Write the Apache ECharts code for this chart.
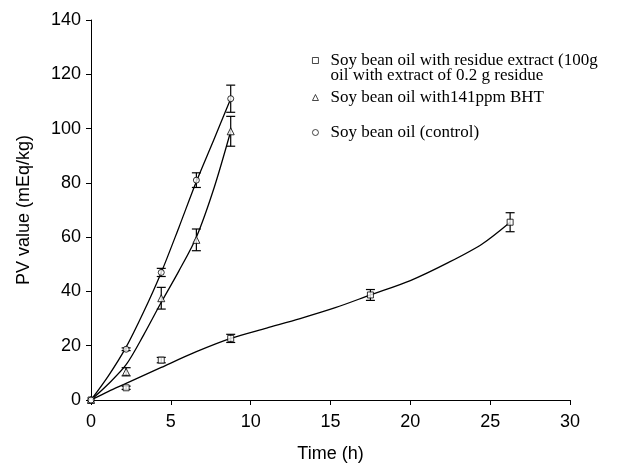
<!DOCTYPE html>
<html>
<head>
<meta charset="utf-8">
<script src="https://cdn.jsdelivr.net/npm/echarts@6/dist/echarts.min.js"></script>
<style>html,body{margin:0;padding:0;background:#fff}#c{width:629px;height:473px}</style>
</head>
<body>
<div id="c"></div>
<script>
// Names
const nameResidue = "Soy bean oil with residue extract (100g\noil with extract of 0.2 g residue";
const nameBHT = "Soy bean oil with141ppm BHT";
const nameCtrl = "Soy bean oil (control)";

// Measured points (x as plotted on the axis, PV value, error)
const timeResidue = [0, 2.2, 4.4, 8.75, 17.5, 26.25];
const pvResidue = [0, 4.5, 14.7, 22.7, 38.7, 65.5];
const errResidue = [0, 0.6, 1, 1.5, 2, 3.5];

const timeBHT = [0, 2.2, 4.4, 6.6, 8.75];
const pvBHT = [0, 10.4, 37.5, 59, 99];
const errBHT = [0, 1.5, 4, 4, 5.5];

const timeCtrl = [0, 2.2, 4.4, 6.6, 8.75];
const pvCtrl = [0, 18.7, 47, 81, 111];
const errCtrl = [0, 0.5, 1.5, 2.7, 5];

// Trend curves
const curveTimeResidue = [0, 1.1, 2.2, 4.4, 6.6, 8.75, 11, 13.1, 15.3, 17.5, 20, 22.4, 24.5, 26.25];
const curveResidue = [0, 3.2, 6.1, 12, 17.8, 22.7, 26.5, 30, 34, 38.7, 44, 50.7, 57.5, 65.5];
const curveTimeBHT = [0, 1.1, 2.2, 3.3, 4.4, 5.5, 6.6, 7.7, 8.75];
const curveBHT = [0, 6, 13, 24, 36, 47.5, 60, 78, 99];
const curveTimeCtrl = [0, 1.1, 2.2, 3.3, 4.4, 5.5, 6.6, 7.7, 8.75];
const curveCtrl = [0, 9, 19.5, 32.5, 47, 63.5, 80.5, 96, 111];

// Axis ticks
const xTicks = [0, 5, 10, 15, 20, 25, 30];
const yTicks = [0, 20, 40, 60, 80, 100, 120, 140];

const zip = (a, b) => a.map((v, i) => [v, b[i]]);
const zip3 = (a, b, c) => a.map((v, i) => [v, b[i], c[i]]);

function errBar(params, api) {
  const x = api.value(0), y = api.value(1), e = api.value(2);
  if (!e) return null;
  const top = api.coord([x, y + e]);
  const bot = api.coord([x, y - e]);
  const hw = 4.5;
  const st = { stroke: '#000', lineWidth: 1.2 };
  return {
    type: 'group',
    children: [
      { type: 'line', shape: { x1: top[0], y1: top[1], x2: bot[0], y2: bot[1] }, style: st },
      { type: 'line', shape: { x1: top[0] - hw, y1: top[1], x2: top[0] + hw, y2: top[1] }, style: st },
      { type: 'line', shape: { x1: bot[0] - hw, y1: bot[1], x2: bot[0] + hw, y2: bot[1] }, style: st }
    ]
  };
}

const chart = echarts.init(document.getElementById('c'), null, { renderer: 'canvas' });
const axisFont = { fontFamily: 'Liberation Sans, Arial, sans-serif', fontSize: 18, color: '#000' };
const LH = 15;
const mkStyle = { color: '#fff', borderColor: '#000', borderWidth: 1 };

function legendAt(name, top, lead) {
  return {
    data: [name], left: 312, top: top, orient: 'vertical', padding: 0,
    itemWidth: 6, itemHeight: 6, selectedMode: false,
    itemStyle: { borderWidth: 0.9 },
    formatter: n => (lead ? ' \n' : '') + n,
    textStyle: {
      fontFamily: 'Liberation Serif, Times New Roman, serif', fontSize: 17, color: '#000',
      lineHeight: LH, padding: [0, 0, 0, 7]
    }
  };
}

chart.setOption({
  animation: false,
  backgroundColor: '#fff',
  grid: { left: 91, right: 59, top: 20, bottom: 73, containLabel: false },
  legend: [legendAt(nameResidue, 37, true), legendAt(nameBHT, 89, false), legendAt(nameCtrl, 124, false)],
  xAxis: {
    type: 'value', min: xTicks[0], max: xTicks[xTicks.length - 1], interval: 5,
    name: 'Time (h)', nameLocation: 'middle', nameGap: 45, nameTextStyle: axisFont,
    axisLine: { lineStyle: { color: '#000', width: 1 } },
    axisTick: { show: true, length: 5, lineStyle: { color: '#000' } },
    axisLabel: Object.assign({ margin: 13 }, axisFont),
    splitLine: { show: false }
  },
  yAxis: {
    type: 'value', min: yTicks[0], max: yTicks[yTicks.length - 1], interval: 20,
    name: 'PV value (mEq/kg)', nameLocation: 'middle', nameGap: 58, nameRotate: 90, nameTextStyle: axisFont,
    axisLine: { show: true, lineStyle: { color: '#000', width: 1 } },
    axisTick: { show: true, length: 5, lineStyle: { color: '#000' } },
    axisLabel: Object.assign({ margin: 10 }, axisFont),
    splitLine: { show: false }
  },
  series: [
    { name: 'curveResidue', type: 'line', data: zip(curveTimeResidue, curveResidue), smooth: 0.3, showSymbol: false, lineStyle: { color: '#000', width: 1.3 }, silent: true, z: 2 },
    { name: 'curveBHT', type: 'line', data: zip(curveTimeBHT, curveBHT), smooth: 0.3, showSymbol: false, lineStyle: { color: '#000', width: 1.3 }, silent: true, z: 2 },
    { name: 'curveCtrl', type: 'line', data: zip(curveTimeCtrl, curveCtrl), smooth: 0.3, showSymbol: false, lineStyle: { color: '#000', width: 1.3 }, silent: true, z: 2 },
    { name: 'errResidue', type: 'custom', renderItem: errBar, data: zip3(timeResidue, pvResidue, errResidue), z: 3 },
    { name: 'errBHT', type: 'custom', renderItem: errBar, data: zip3(timeBHT, pvBHT, errBHT), z: 3 },
    { name: 'errCtrl', type: 'custom', renderItem: errBar, data: zip3(timeCtrl, pvCtrl, errCtrl), z: 3 },
    { name: nameResidue, type: 'scatter', symbol: 'rect', symbolSize: 6, data: zip(timeResidue, pvResidue), itemStyle: mkStyle, z: 4 },
    { name: nameBHT, type: 'scatter', symbol: 'triangle', symbolSize: 7, data: zip(timeBHT, pvBHT), itemStyle: mkStyle, z: 4 },
    { name: nameCtrl, type: 'scatter', symbol: 'circle', symbolSize: 6, data: zip(timeCtrl, pvCtrl), itemStyle: mkStyle, z: 4 }
  ]
});
</script>
</body>
</html>
